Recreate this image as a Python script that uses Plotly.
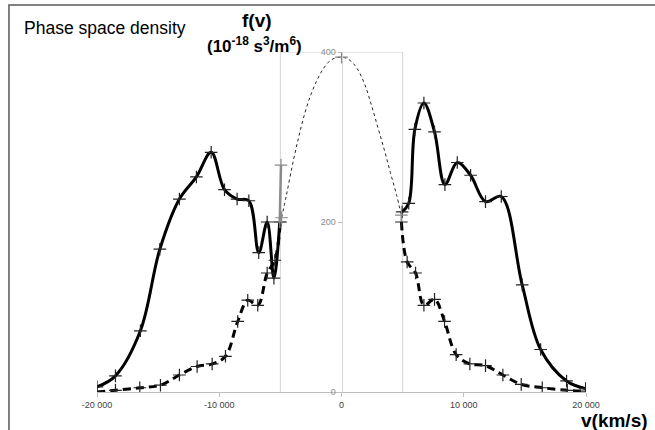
import plotly.graph_objects as go

# ---------------- data ----------------
# Solid thick curve: f(v) of the wings (left and right)
solid_left_v = [-20000, -18490, -16450, -14860, -13260, -11870, -10660, -9570, -8540,
                -7580, -6770, -6080, -5530, -5050]
solid_left_f = [6, 19, 72, 168, 227, 253, 282, 238, 227, 225, 164, 200, 134, 200]

solid_right_v = [4960, 5500, 6000, 6740, 7610, 8460, 9470, 10560, 11780, 13070,
                 14780, 16290, 18410, 19970]
solid_right_f = [212, 222, 309, 340, 306, 244, 270, 255, 224, 230, 126, 50, 13, 4]

# Thick dashed curve
dashed_left_v = [-20000, -18490, -16500, -14810, -13260, -11810, -10580, -9490, -8490,
                 -7670, -6850, -6080, -5450, -5000]
dashed_left_f = [0, 2, 5, 8, 20, 30, 33, 42, 83, 108, 102, 140, 155, 200]

dashed_right_v = [4900, 5370, 6060, 6740, 7610, 8430, 9380, 10500, 11780, 13200,
                  14700, 16420, 18470, 19970]
dashed_right_f = [200, 153, 140, 102, 109, 83, 44, 33, 31, 20, 9, 5, 2, 1]

# Thin dotted core (Maxwellian-like) between the core limits
core_v = [-4900, -4500, -4000, -3500, -3000, -2500, -2000, -1500, -1000, -500, 0,
          500, 1000, 1500, 2000, 2500, 3000, 3500, 4000, 4500, 4900]
core_f = [205, 232, 268, 300, 328, 350, 367, 380, 389, 393, 394,
          392, 386, 375, 358, 335, 310, 285, 258, 232, 208]

# Grey connecting segment near -5000
grey_v = [-5050, -4950]
grey_f = [200, 267]

# Axes
x_min, x_max = -20000, 20000
y_min, y_max = 0, 400
core_limit = 5000
x_tickvals = [-20000, -10000, 0, 10000, 20000]
x_ticktext = ["-20 000", "-10 000", "0", "10 000", "20 000"]
y_tickvals = [0, 200, 400]
y_ticktext = ["0", "200", "400"]

# ---------------- figure ----------------
fig = go.Figure()

marker_style = dict(symbol="cross-thin", size=9, line=dict(width=1.2, color="#222222"))

for v, f in [(solid_left_v, solid_left_f), (solid_right_v, solid_right_f)]:
    fig.add_trace(go.Scatter(x=v, y=f, mode="lines+markers",
                             line=dict(color="black", width=3, shape="spline", smoothing=1.0),
                             marker=marker_style, showlegend=False, hoverinfo="skip"))

for v, f in [(dashed_left_v, dashed_left_f), (dashed_right_v, dashed_right_f)]:
    fig.add_trace(go.Scatter(x=v, y=f, mode="lines+markers",
                             line=dict(color="black", width=3, dash="8px,5px",
                                       shape="spline", smoothing=1.0),
                             marker=marker_style, showlegend=False, hoverinfo="skip"))

fig.add_trace(go.Scatter(x=core_v, y=core_f, mode="lines",
                         line=dict(color="#222222", width=1, dash="3px,3px",
                                   shape="spline", smoothing=1.0),
                         showlegend=False, hoverinfo="skip"))
# markers at the ends and top of the core curve
idx = [0, core_v.index(0), len(core_v) - 1]
fig.add_trace(go.Scatter(x=[core_v[i] for i in idx], y=[core_f[i] for i in idx], mode="markers",
                         marker=dict(symbol="cross-thin", size=9,
                                     line=dict(width=1.2, color="#888888")),
                         showlegend=False, hoverinfo="skip"))

fig.add_trace(go.Scatter(x=grey_v, y=grey_f, mode="lines+markers",
                         line=dict(color="#8a8a8a", width=2.5),
                         marker=dict(symbol="cross-thin", size=9,
                                     line=dict(width=1.2, color="#8a8a8a")),
                         showlegend=False, hoverinfo="skip"))

# light grey frame around the core region
box_color = "#d4d4d4"
fig.add_shape(type="line", xref="x", yref="y", x0=-core_limit, x1=-core_limit, y0=y_min, y1=y_max,
              line=dict(color=box_color, width=1), layer="below")
fig.add_shape(type="line", xref="x", yref="y", x0=core_limit, x1=core_limit, y0=y_min, y1=y_max,
              line=dict(color=box_color, width=1), layer="below")
fig.add_shape(type="line", xref="x", yref="y", x0=-core_limit, x1=core_limit, y0=y_max, y1=y_max,
              line=dict(color=box_color, width=1), layer="below")

# outer chart border
fig.add_shape(type="rect", xref="paper", yref="paper", x0=-0.18, x1=1.25, y0=-0.3, y1=1.138,
              line=dict(color="#595959", width=1.5))

font_main = "Liberation Sans, Arial, sans-serif"

fig.add_annotation(text="Phase space density", xref="paper", yref="paper",
                   x=-0.1534, y=1.0706, xanchor="left", yanchor="middle", showarrow=False,
                   font=dict(family=font_main, size=17.5, color="black"))
fig.add_annotation(text="<b>f(v)</b>", xref="paper", yref="paper",
                   x=0.3272, y=1.0912, xanchor="center", yanchor="middle", showarrow=False,
                   font=dict(family=font_main, size=19, color="black"))
fig.add_annotation(text="<b>(10<sup>-18</sup> s<sup>3</sup>/m<sup>6</sup>)</b>", xref="paper", yref="paper",
                   x=0.3231, y=1.0206, xanchor="center", yanchor="middle", showarrow=False,
                   font=dict(family=font_main, size=17, color="black"))
fig.add_annotation(text="<b>v(km/s)</b>", xref="paper", yref="paper",
                   x=1.1309, y=-0.0835, xanchor="right", yanchor="middle", showarrow=False,
                   font=dict(family=font_main, size=19, color="black"))

fig.update_layout(
    width=655, height=430,
    margin=dict(l=97, r=69, t=52, b=38),
    plot_bgcolor="white", paper_bgcolor="white",
    xaxis=dict(range=[x_min, x_max], tickvals=x_tickvals, ticktext=x_ticktext,
               showgrid=False, zeroline=False, showline=True, linecolor="#bfbfbf", linewidth=1,
               ticks="outside", ticklen=4, tickcolor="#bfbfbf",
               tickfont=dict(family=font_main, size=9, color="#404040")),
    yaxis=dict(range=[y_min, y_max], tickvals=y_tickvals, ticktext=y_ticktext,
               anchor="free", position=(0 - x_min) / (x_max - x_min),
               showgrid=False, zeroline=False, showline=True, linecolor="#d4d4d4", linewidth=1,
               ticks="outside", ticklen=4, tickcolor="#bfbfbf",
               tickfont=dict(family=font_main, size=9, color="#8c8c8c")),
)

fig.write_html("out.html", config={"displayModeBar": False},
               post_script="document.body.style.margin='0px';document.body.style.overflow='hidden';")
